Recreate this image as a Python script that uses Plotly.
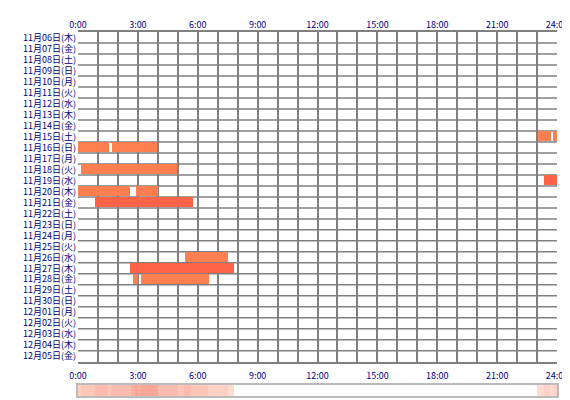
import plotly.graph_objects as go
import numpy as np

days = ["11月06日(木)", "11月07日(金)", "11月08日(土)", "11月09日(日)", "11月10日(月)",
        "11月11日(火)", "11月12日(水)", "11月13日(木)", "11月14日(金)", "11月15日(土)",
        "11月16日(日)", "11月17日(月)", "11月18日(火)", "11月19日(水)", "11月20日(木)",
        "11月21日(金)", "11月22日(土)", "11月23日(日)", "11月24日(月)", "11月25日(火)",
        "11月26日(水)", "11月27日(木)", "11月28日(金)", "11月29日(土)", "11月30日(日)",
        "12月01日(月)", "12月02日(火)", "12月03日(水)", "12月04日(木)", "12月05日(金)"]

# sleep sessions: row index, start hour, end hour
ev_day = [9, 9, 10, 10, 12, 13, 14, 14, 15, 20, 21, 22, 22]
ev_start = [23.05, 23.8, 0.0, 1.68, 0.13, 23.35, 0.0, 2.9, 0.85, 5.35, 2.6, 2.75, 3.15]
ev_end = [23.7, 24.0, 1.53, 3.95, 4.95, 24.0, 2.63, 4.0, 5.75, 7.5, 7.8, 3.03, 6.55]
ev_color = ["#FF7F50", "#FF7F50", "#FF7F50", "#FF7F50", "#FF7F50", "#FF6347", "#FF7F50",
            "#FF7F50", "#FF6347", "#FF7F50", "#FF6347", "#FF7F50", "#FF7F50"]

hour_ticks = [0, 3, 6, 9, 12, 15, 18, 21, 24]
hour_text = ["0:00", "3:00", "6:00", "9:00", "12:00", "15:00", "18:00", "21:00", "24:00"]

font = dict(family="Noto Sans CJK JP", size=9, color="#000080")
grid = "#808080"

fig = go.Figure()

fig.add_trace(go.Bar(
    y=ev_day, x=[e - s for s, e in zip(ev_start, ev_end)], base=ev_start,
    orientation="h", marker=dict(color=ev_color, line=dict(width=0)),
    width=0.9, showlegend=False, hoverinfo="skip"
))

# dummy trace so the top axis shows up
fig.add_trace(go.Scatter(x=[0, 24], y=[0, 0], xaxis="x2", mode="markers",
                         marker=dict(opacity=0), showlegend=False, hoverinfo="skip"))

# frequency strip, 10 minute bins
centers = np.arange(144) / 6 + 1 / 12
counts = np.zeros(144)
for s, e in zip(ev_start, ev_end):
    counts += (centers >= s) & (centers < e)
fig.add_trace(go.Heatmap(
    x=centers, y=[0], z=[counts], xaxis="x3", yaxis="y2",
    colorscale=[[0, "#FFFFFF"], [0.001, "#FFE6DC"], [1, "#FFA595"]],
    zmin=0, showscale=False, hoverinfo="skip"
))

# horizontal grid lines between rows
for i in range(len(days) - 1):
    fig.add_shape(type="line", xref="x", yref="y", x0=0, x1=24, y0=i + 0.5, y1=i + 0.5,
                  line=dict(color=grid, width=1.5), layer="below")

main_dom = [0.094, 1]
fig.update_layout(
    width=570, height=400,
    margin=dict(l=70, r=21, t=24, b=12),
    plot_bgcolor="white", paper_bgcolor="white",
    bargap=0, font=font,
    xaxis=dict(range=[0, 24], tickmode="linear", tick0=0, dtick=1, showgrid=True,
               gridcolor=grid, gridwidth=1.5, showticklabels=False, ticks="",
               showline=True, linecolor=grid, linewidth=2, mirror=True, zeroline=False,
               anchor="y", automargin=False),
    xaxis2=dict(range=[0, 24], overlaying="x", side="top", tickmode="array",
                tickvals=hour_ticks, ticktext=hour_text, showgrid=False, ticks="",
                zeroline=False, tickfont=font, ticklabelstandoff=1, automargin=False),
    xaxis3=dict(range=[0, 24], anchor="y2", showgrid=False, zeroline=False,
                tickmode="array", tickvals=hour_ticks, ticktext=hour_text, ticks="",
                showline=True, linecolor="#BBBBBB", linewidth=2, mirror=True,
                side="top", tickfont=font, automargin=False),
    yaxis=dict(domain=main_dom, range=[len(days) - 0.5, -0.5], tickmode="array",
               tickvals=list(range(len(days))), ticktext=days, showgrid=False,
               zeroline=False, ticks="", tickfont=font, anchor="x", automargin=False,
               ticklabelstandoff=1),
    yaxis2=dict(domain=[0, 0.03], anchor="x3", showticklabels=False, showgrid=False,
                zeroline=False, ticks="", showline=True, linecolor="#BBBBBB",
                linewidth=2, mirror=True, automargin=False),
)

fig.write_html("out.html")
